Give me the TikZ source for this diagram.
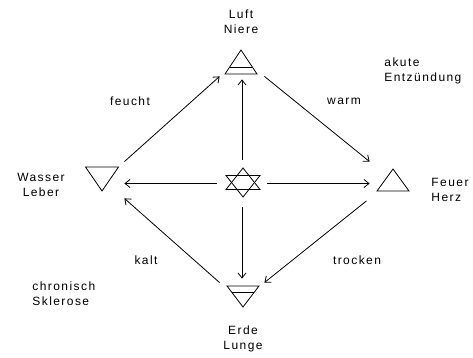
\documentclass[tikz,border=0pt]{standalone}
\usepackage{fontspec}
\setmainfont{Liberation Sans}[LetterSpace=12]
\usetikzlibrary{arrows.meta}

\tikzset{
  elem/.style={minimum width=44pt, minimum height=#1, inner sep=0pt},
  lbl/.style={align=center, inner sep=0pt},
  lbll/.style={align=left, anchor=west, inner sep=0pt},
  % element signs
  airsign/.pic={\draw (0,-12) -- (16,12) -- (-16,12) -- cycle;
                \draw (-11.3,5) -- (11.3,5);},
  firesign/.pic={\draw (0,-11) -- (16,11) -- (-16,11) -- cycle;},
  watersign/.pic={\draw (-16.5,-12) -- (16.5,-12) -- (0,12) -- cycle;},
  earthsign/.pic={\draw (-16,-10) -- (16,-10) -- (0,11) -- cycle;
                  \draw (-11.4,-4) -- (11.4,-4);},
  starsign/.pic={\draw (0,-14.5) -- (17,7) -- (-17,7) -- cycle;
                 \draw (0,14.5) -- (17,-7) -- (-17,-7) -- cycle;}
}

\begin{document}
\begin{tikzpicture}[x=1pt, y=-1pt, line width=0.8pt,
    font=\fontsize{12}{15}\selectfont,
    >={Straight Barb[length=5pt,width=8pt]}]
    \useasboundingbox (0,0) rectangle (473,358);

    % Elements
    \node[elem=28pt] (luft) at (242,62) {};
    \node[elem=36pt] (wasser) at (102,180) {};
    \node[elem=36pt] (feuer) at (392,180) {};
    \node[elem=24pt] (erde) at (242,295) {};
    \node[minimum width=50pt, minimum height=47pt, inner sep=0pt] (star) at (242,183.5) {};

    \pic at (241,62) {airsign};
    \pic at (102,179) {watersign};
    \pic at (393,180) {firesign};
    \pic at (243,296) {earthsign};
    \pic at (243,182.5) {starsign};

    % Names
    \node[lbl] (luftname) at (241,22) {Luft\\Niere};
    \node[lbl] (wassername) at (41,185) {Wasser\\Leber};
    \node[lbll] (feuername) at (431,190) {Feuer\\Herz};
    \node[lbl] (erdename) at (243,339) {Erde\\Lunge};
    \node[lbll] (akut) at (384,71) {akute\\Entzündung};
    \node[lbll] (chron) at (32,294) {chronisch\\Sklerose};

    % Qualities
    \node (feucht) at (130,101) {feucht};
    \node (warm) at (344,101) {warm};
    \node (trocken) at (357,260) {trocken};
    \node (kalt) at (146,260) {kalt};

    % From the centre
    \draw[->, shorten >=3pt] (star.north) -- (luft.south);
    \draw[->] (star.west) -- (star.west -| wasser.east);
    \draw[->] (star.east) -- (star.east -| feuer.west);
    \draw[->, shorten >=4pt] (star.south) -- (erde.north);

    % Around the square
    \draw[->] (wasser.north east) -- (luft.south west);
    \draw[->] (luft.south east) -- (feuer.north west);
    \draw[->, shorten <=4pt] (feuer.south west) -- (erde.north east);
    \draw[->] (erde.north west) -- (wasser.south east);
\end{tikzpicture}
\end{document}
